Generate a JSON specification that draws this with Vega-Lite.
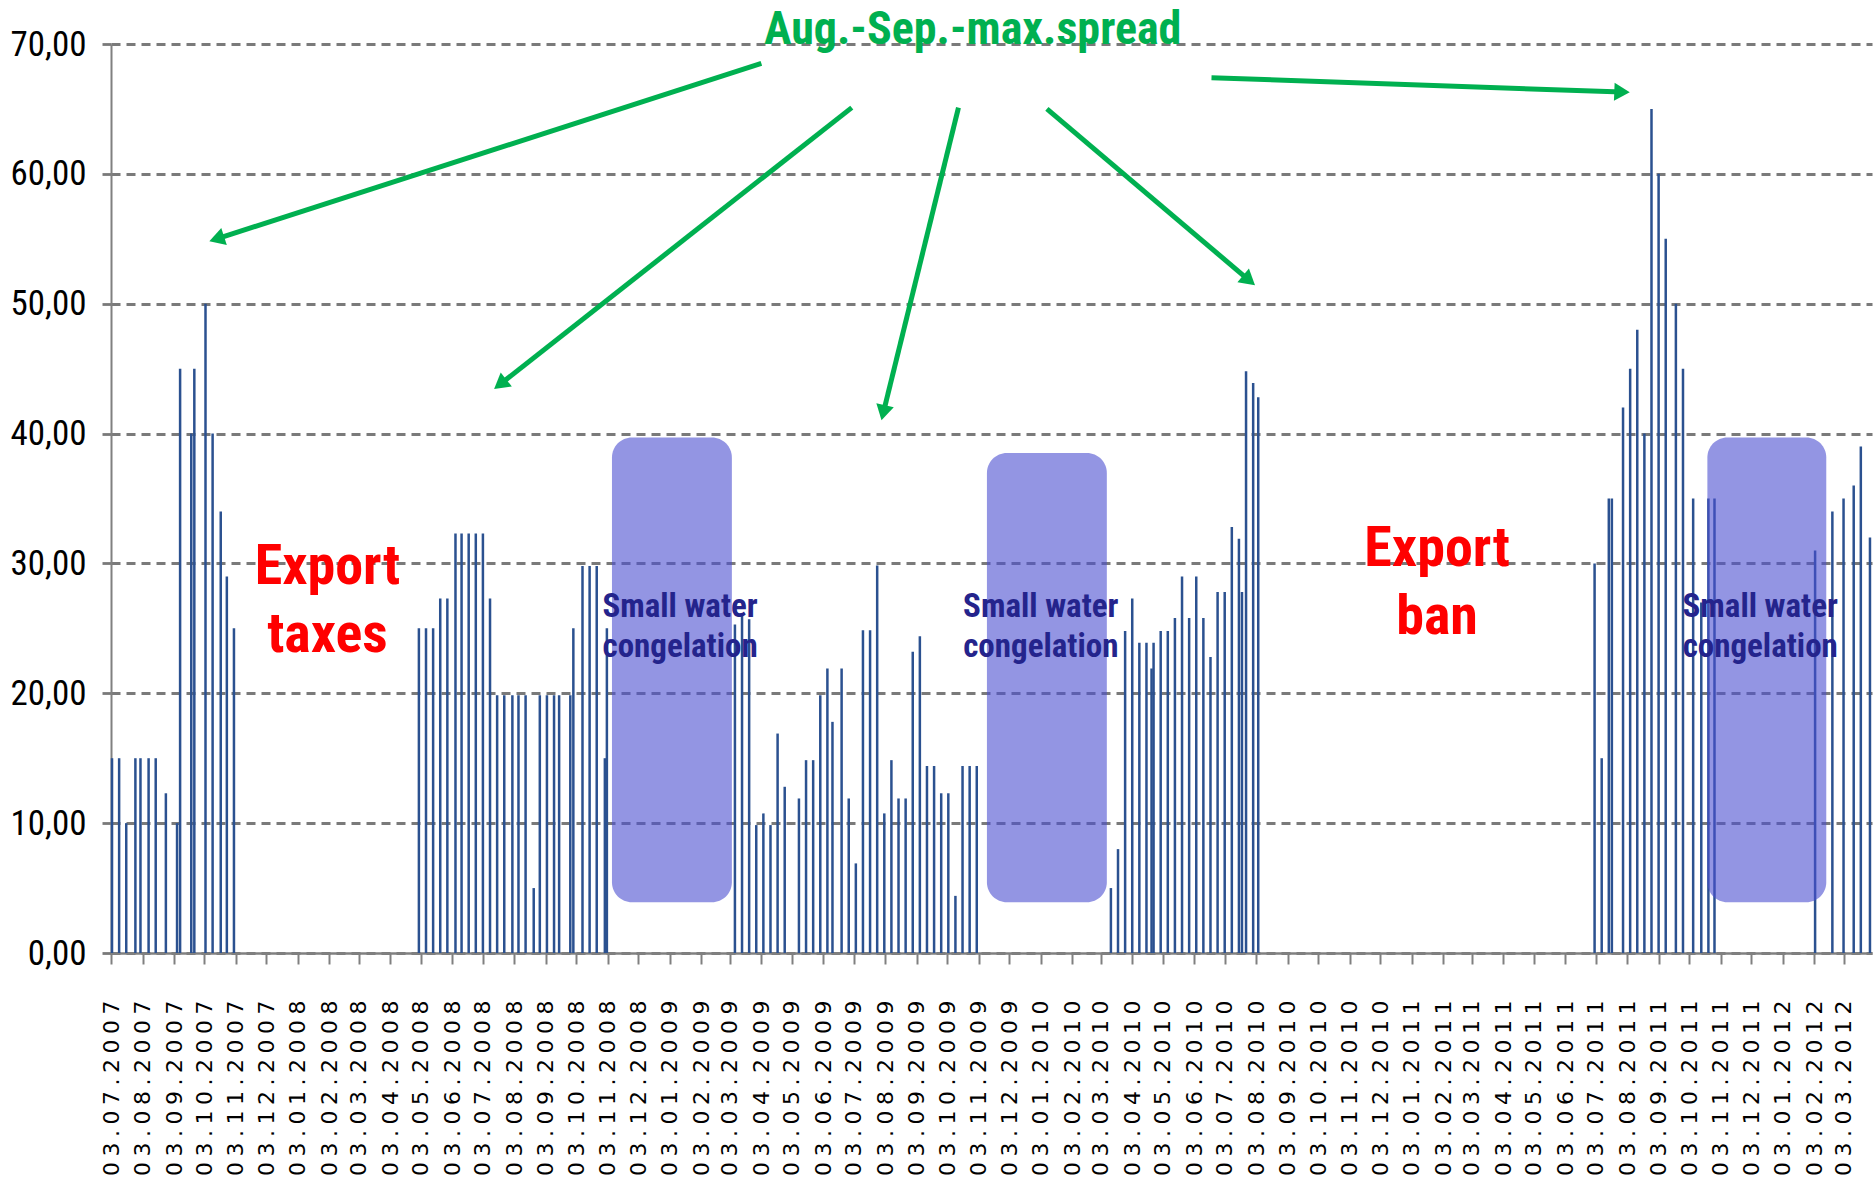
{
  "$schema": "https://vega.github.io/schema/vega-lite/v6.json",
  "width": 1761,
  "height": 909,
  "autosize": "none",
  "padding": {"left": 111, "top": 44, "right": 2, "bottom": 236},
  "background": "white",
  "config": {
    "view": {"stroke": null},
    "axisX": {
      "grid": false,
      "labelAngle": -90,
      "labelFont": "DejaVu Sans",
      "labelFontSize": 22,
      "labelColor": "#000000",
      "labelPadding": 36,
      "labelOverlap": false,
      "labelSeparation": 0,
      "labelBound": false,
      "labelFlush": false,
      "tickSize": 11,
      "tickWidth": 2,
      "tickColor": "#808080",
      "domainColor": "#808080",
      "domainWidth": 2.5
    },
    "axisY": {
      "labelFont": "Roboto Condensed, DejaVu Sans Condensed, sans-serif",
      "labelFontSize": 35,
      "labelColor": "#000000",
      "labelPadding": 16,
      "grid": true,
      "gridDash": [9, 6],
      "gridColor": "#7a7a7a",
      "gridWidth": 2.8,
      "domainColor": "#808080",
      "domainWidth": 2,
      "tickColor": "#7a7a7a",
      "tickSize": 9,
      "tickWidth": 2.8,
      "labelOverlap": false
    }
  },
  "datasets": {
    "spread": [
      {"date": "2007-07-04", "spread": 15}, {"date": "2007-07-11", "spread": 15}, {"date": "2007-07-18", "spread": 10},
      {"date": "2007-07-27", "spread": 15}, {"date": "2007-08-01", "spread": 15}, {"date": "2007-08-09", "spread": 15},
      {"date": "2007-08-16", "spread": 15}, {"date": "2007-08-26", "spread": 12.3}, {"date": "2007-09-06", "spread": 10},
      {"date": "2007-09-09", "spread": 45}, {"date": "2007-09-20", "spread": 40}, {"date": "2007-09-23", "spread": 45},
      {"date": "2007-10-04", "spread": 50}, {"date": "2007-10-11", "spread": 40}, {"date": "2007-10-19", "spread": 34},
      {"date": "2007-10-25", "spread": 29}, {"date": "2007-11-01", "spread": 25},
      {"date": "2008-05-01", "spread": 25}, {"date": "2008-05-08", "spread": 25}, {"date": "2008-05-15", "spread": 25},
      {"date": "2008-05-22", "spread": 27.3}, {"date": "2008-05-29", "spread": 27.3}, {"date": "2008-06-06", "spread": 32.3},
      {"date": "2008-06-12", "spread": 32.3}, {"date": "2008-06-19", "spread": 32.3}, {"date": "2008-06-26", "spread": 32.3},
      {"date": "2008-07-03", "spread": 32.3}, {"date": "2008-07-10", "spread": 27.3}, {"date": "2008-07-17", "spread": 19.85},
      {"date": "2008-07-24", "spread": 19.85}, {"date": "2008-08-01", "spread": 19.85}, {"date": "2008-08-07", "spread": 19.85},
      {"date": "2008-08-14", "spread": 19.85}, {"date": "2008-08-22", "spread": 5}, {"date": "2008-08-28", "spread": 19.85},
      {"date": "2008-09-04", "spread": 19.85}, {"date": "2008-09-11", "spread": 19.85}, {"date": "2008-09-16", "spread": 19.85},
      {"date": "2008-09-27", "spread": 19.85}, {"date": "2008-09-30", "spread": 25}, {"date": "2008-10-09", "spread": 29.8},
      {"date": "2008-10-16", "spread": 29.8}, {"date": "2008-10-23", "spread": 29.8}, {"date": "2008-10-31", "spread": 15},
      {"date": "2008-11-02", "spread": 25},
      {"date": "2009-03-08", "spread": 25.3}, {"date": "2009-03-15", "spread": 26}, {"date": "2009-03-22", "spread": 25.7},
      {"date": "2009-03-29", "spread": 9.85}, {"date": "2009-04-05", "spread": 10.75}, {"date": "2009-04-12", "spread": 9.85},
      {"date": "2009-04-19", "spread": 16.9}, {"date": "2009-04-26", "spread": 12.8}, {"date": "2009-05-10", "spread": 11.9},
      {"date": "2009-05-17", "spread": 14.85}, {"date": "2009-05-24", "spread": 14.85}, {"date": "2009-05-31", "spread": 19.85},
      {"date": "2009-06-07", "spread": 21.9}, {"date": "2009-06-12", "spread": 17.8}, {"date": "2009-06-21", "spread": 21.9},
      {"date": "2009-06-28", "spread": 11.9}, {"date": "2009-07-05", "spread": 6.9}, {"date": "2009-07-12", "spread": 24.85},
      {"date": "2009-07-19", "spread": 24.85}, {"date": "2009-07-26", "spread": 29.85}, {"date": "2009-08-02", "spread": 10.75},
      {"date": "2009-08-09", "spread": 14.85}, {"date": "2009-08-16", "spread": 11.9}, {"date": "2009-08-23", "spread": 11.9},
      {"date": "2009-08-30", "spread": 23.2}, {"date": "2009-09-06", "spread": 24.4}, {"date": "2009-09-13", "spread": 14.4},
      {"date": "2009-09-20", "spread": 14.4}, {"date": "2009-09-27", "spread": 12.3}, {"date": "2009-10-04", "spread": 12.3},
      {"date": "2009-10-11", "spread": 4.4}, {"date": "2009-10-18", "spread": 14.4}, {"date": "2009-10-25", "spread": 14.4},
      {"date": "2009-11-01", "spread": 14.4},
      {"date": "2010-03-13", "spread": 5}, {"date": "2010-03-20", "spread": 8}, {"date": "2010-03-27", "spread": 24.8},
      {"date": "2010-04-03", "spread": 27.3}, {"date": "2010-04-10", "spread": 23.9}, {"date": "2010-04-17", "spread": 23.9},
      {"date": "2010-04-22", "spread": 21.9}, {"date": "2010-04-24", "spread": 23.9}, {"date": "2010-05-01", "spread": 24.8},
      {"date": "2010-05-08", "spread": 24.8}, {"date": "2010-05-15", "spread": 25.8}, {"date": "2010-05-22", "spread": 29},
      {"date": "2010-05-29", "spread": 25.8}, {"date": "2010-06-05", "spread": 29}, {"date": "2010-06-12", "spread": 25.8},
      {"date": "2010-06-19", "spread": 22.8}, {"date": "2010-06-26", "spread": 27.8}, {"date": "2010-07-03", "spread": 27.8},
      {"date": "2010-07-10", "spread": 32.8}, {"date": "2010-07-17", "spread": 31.9}, {"date": "2010-07-20", "spread": 27.8},
      {"date": "2010-07-24", "spread": 44.8}, {"date": "2010-07-31", "spread": 43.9}, {"date": "2010-08-05", "spread": 42.8},
      {"date": "2011-07-02", "spread": 30}, {"date": "2011-07-09", "spread": 15}, {"date": "2011-07-16", "spread": 35},
      {"date": "2011-07-19", "spread": 35}, {"date": "2011-07-30", "spread": 42}, {"date": "2011-08-06", "spread": 45},
      {"date": "2011-08-13", "spread": 48}, {"date": "2011-08-20", "spread": 40}, {"date": "2011-08-27", "spread": 65},
      {"date": "2011-09-03", "spread": 60}, {"date": "2011-09-10", "spread": 55}, {"date": "2011-09-20", "spread": 50},
      {"date": "2011-09-27", "spread": 45}, {"date": "2011-10-07", "spread": 35}, {"date": "2011-10-15", "spread": 27},
      {"date": "2011-10-22", "spread": 35}, {"date": "2011-10-28", "spread": 35}, {"date": "2012-02-04", "spread": 31},
      {"date": "2012-02-21", "spread": 34}, {"date": "2012-03-03", "spread": 35}, {"date": "2012-03-13", "spread": 36},
      {"date": "2012-03-20", "spread": 39}, {"date": "2012-03-29", "spread": 32}
    ],
    "boxes": [
      {"d0": "2008-11-07", "d1": "2009-03-05", "v0": 39.7, "v1": 3.9},
      {"d0": "2009-11-11", "d1": "2010-03-09", "v0": 38.5, "v1": 3.9},
      {"d0": "2011-10-21", "d1": "2012-02-15", "v0": 39.7, "v1": 3.9}
    ],
    "arrows": [
      {"d0": "2009-04-03", "v0": 68.5, "d1": "2007-10-15", "v1": 55.0, "angle": 252},
      {"d0": "2009-07-01", "v0": 65.1, "d1": "2008-07-20", "v1": 43.8, "angle": 231.6},
      {"d0": "2009-10-14", "v0": 65.1, "d1": "2009-08-01", "v1": 41.6, "angle": 193.3},
      {"d0": "2010-01-09", "v0": 65.0, "d1": "2010-07-27", "v1": 51.8, "angle": 130.1},
      {"d0": "2010-06-20", "v0": 67.4, "d1": "2011-07-29", "v1": 66.3, "angle": 92.2}
    ],
    "water": [
      {"d": "2009-01-13", "v": 25.9, "t": "Small water"}, {"d": "2009-01-13", "v": 22.8, "t": "congelation"},
      {"d": "2010-01-03", "v": 25.9, "t": "Small water"}, {"d": "2010-01-03", "v": 22.8, "t": "congelation"},
      {"d": "2011-12-12", "v": 25.9, "t": "Small water"}, {"d": "2011-12-12", "v": 22.8, "t": "congelation"}
    ],
    "policy": [
      {"d": "2008-02-01", "v": 28.45, "t": "Export"}, {"d": "2008-02-01", "v": 23.2, "t": "taxes"},
      {"d": "2011-01-28", "v": 29.8, "t": "Export"}, {"d": "2011-01-28", "v": 24.6, "t": "ban"}
    ],
    "title": [
      {"d": "2009-10-28", "v": 70.0, "t": "Aug.-Sep.-max.spread"}
    ]
  },
  "layer": [
    {
      "data": {"name": "spread"},
      "mark": {"type": "rule", "strokeWidth": 2.5, "color": "#2B5190"},
      "encoding": {
        "x": {
          "field": "date", "type": "temporal",
          "scale": {"type": "utc", "nice": false, "domain": [{"year": 2007, "month": 7, "date": 3, "utc": true}, {"year": 2012, "month": 3, "date": 31, "utc": true}]},
          "axis": {
            "title": null,
            "labelOverlap": false,
            "tickCount": 200,
            "values": [
              {"year": 2007, "month": 7, "date": 3, "utc": true}, {"year": 2007, "month": 8, "date": 3, "utc": true}, {"year": 2007, "month": 9, "date": 3, "utc": true},
              {"year": 2007, "month": 10, "date": 3, "utc": true}, {"year": 2007, "month": 11, "date": 3, "utc": true}, {"year": 2007, "month": 12, "date": 3, "utc": true},
              {"year": 2008, "month": 1, "date": 3, "utc": true}, {"year": 2008, "month": 2, "date": 3, "utc": true}, {"year": 2008, "month": 3, "date": 3, "utc": true},
              {"year": 2008, "month": 4, "date": 3, "utc": true}, {"year": 2008, "month": 5, "date": 3, "utc": true}, {"year": 2008, "month": 6, "date": 3, "utc": true},
              {"year": 2008, "month": 7, "date": 3, "utc": true}, {"year": 2008, "month": 8, "date": 3, "utc": true}, {"year": 2008, "month": 9, "date": 3, "utc": true},
              {"year": 2008, "month": 10, "date": 3, "utc": true}, {"year": 2008, "month": 11, "date": 3, "utc": true}, {"year": 2008, "month": 12, "date": 3, "utc": true},
              {"year": 2009, "month": 1, "date": 3, "utc": true}, {"year": 2009, "month": 2, "date": 3, "utc": true}, {"year": 2009, "month": 3, "date": 3, "utc": true},
              {"year": 2009, "month": 4, "date": 3, "utc": true}, {"year": 2009, "month": 5, "date": 3, "utc": true}, {"year": 2009, "month": 6, "date": 3, "utc": true},
              {"year": 2009, "month": 7, "date": 3, "utc": true}, {"year": 2009, "month": 8, "date": 3, "utc": true}, {"year": 2009, "month": 9, "date": 3, "utc": true},
              {"year": 2009, "month": 10, "date": 3, "utc": true}, {"year": 2009, "month": 11, "date": 3, "utc": true}, {"year": 2009, "month": 12, "date": 3, "utc": true},
              {"year": 2010, "month": 1, "date": 3, "utc": true}, {"year": 2010, "month": 2, "date": 3, "utc": true}, {"year": 2010, "month": 3, "date": 3, "utc": true},
              {"year": 2010, "month": 4, "date": 3, "utc": true}, {"year": 2010, "month": 5, "date": 3, "utc": true}, {"year": 2010, "month": 6, "date": 3, "utc": true},
              {"year": 2010, "month": 7, "date": 3, "utc": true}, {"year": 2010, "month": 8, "date": 3, "utc": true}, {"year": 2010, "month": 9, "date": 3, "utc": true},
              {"year": 2010, "month": 10, "date": 3, "utc": true}, {"year": 2010, "month": 11, "date": 3, "utc": true}, {"year": 2010, "month": 12, "date": 3, "utc": true},
              {"year": 2011, "month": 1, "date": 3, "utc": true}, {"year": 2011, "month": 2, "date": 3, "utc": true}, {"year": 2011, "month": 3, "date": 3, "utc": true},
              {"year": 2011, "month": 4, "date": 3, "utc": true}, {"year": 2011, "month": 5, "date": 3, "utc": true}, {"year": 2011, "month": 6, "date": 3, "utc": true},
              {"year": 2011, "month": 7, "date": 3, "utc": true}, {"year": 2011, "month": 8, "date": 3, "utc": true}, {"year": 2011, "month": 9, "date": 3, "utc": true},
              {"year": 2011, "month": 10, "date": 3, "utc": true}, {"year": 2011, "month": 11, "date": 3, "utc": true}, {"year": 2011, "month": 12, "date": 3, "utc": true},
              {"year": 2012, "month": 1, "date": 3, "utc": true}, {"year": 2012, "month": 2, "date": 3, "utc": true}, {"year": 2012, "month": 3, "date": 3, "utc": true}
            ],
            "labelExpr": "replace(utcFormat(datum.value, '%d.%m.%Y'), regexp('(.)(?=.)', 'g'), '$1\u2005')"
          }
        },
        "y": {
          "field": "spread", "type": "quantitative",
          "scale": {"domain": [0, 70], "nice": false},
          "axis": {
            "title": null,
            "values": [0, 10, 20, 30, 40, 50, 60, 70],
            "labelExpr": "replace(format(datum.value, '.2f'), '.', ',')"
          }
        },
        "y2": {"datum": 0}
      }
    },
    {
      "data": {"name": "boxes"},
      "mark": {"type": "rect", "cornerRadius": 20, "fill": "#4B4ED0", "opacity": 0.6},
      "encoding": {
        "x": {"field": "d0", "type": "temporal"},
        "x2": {"field": "d1"},
        "y": {"field": "v0", "type": "quantitative"},
        "y2": {"field": "v1"}
      }
    },
    {
      "data": {"name": "arrows"},
      "mark": {"type": "rule", "strokeWidth": 5, "color": "#00B050"},
      "encoding": {
        "x": {"field": "d0", "type": "temporal"},
        "x2": {"field": "d1"},
        "y": {"field": "v0", "type": "quantitative"},
        "y2": {"field": "v1"}
      }
    },
    {
      "data": {"name": "arrows"},
      "mark": {"type": "point", "shape": "triangle-up", "filled": true, "color": "#00B050", "size": 320, "opacity": 1},
      "encoding": {
        "x": {"field": "d1", "type": "temporal"},
        "y": {"field": "v1", "type": "quantitative"},
        "angle": {"field": "angle", "type": "quantitative", "scale": null}
      }
    },
    {
      "data": {"name": "water"},
      "mark": {"type": "text", "font": "Roboto Condensed, DejaVu Sans Condensed, sans-serif", "fontWeight": "bold", "fontSize": 33, "color": "#24248C", "align": "center", "baseline": "alphabetic"},
      "encoding": {
        "x": {"field": "d", "type": "temporal"},
        "y": {"field": "v", "type": "quantitative"},
        "text": {"field": "t"}
      }
    },
    {
      "data": {"name": "policy"},
      "mark": {"type": "text", "font": "Roboto Condensed, DejaVu Sans Condensed, sans-serif", "fontWeight": "bold", "fontSize": 56, "color": "#FF0000", "align": "center", "baseline": "alphabetic"},
      "encoding": {
        "x": {"field": "d", "type": "temporal"},
        "y": {"field": "v", "type": "quantitative"},
        "text": {"field": "t"}
      }
    },
    {
      "data": {"name": "title"},
      "mark": {"type": "text", "font": "Roboto Condensed, DejaVu Sans Condensed, sans-serif", "fontWeight": "bold", "fontSize": 46, "color": "#00B050", "align": "center", "baseline": "alphabetic"},
      "encoding": {
        "x": {"field": "d", "type": "temporal"},
        "y": {"field": "v", "type": "quantitative"},
        "text": {"field": "t"}
      }
    }
  ]
}
